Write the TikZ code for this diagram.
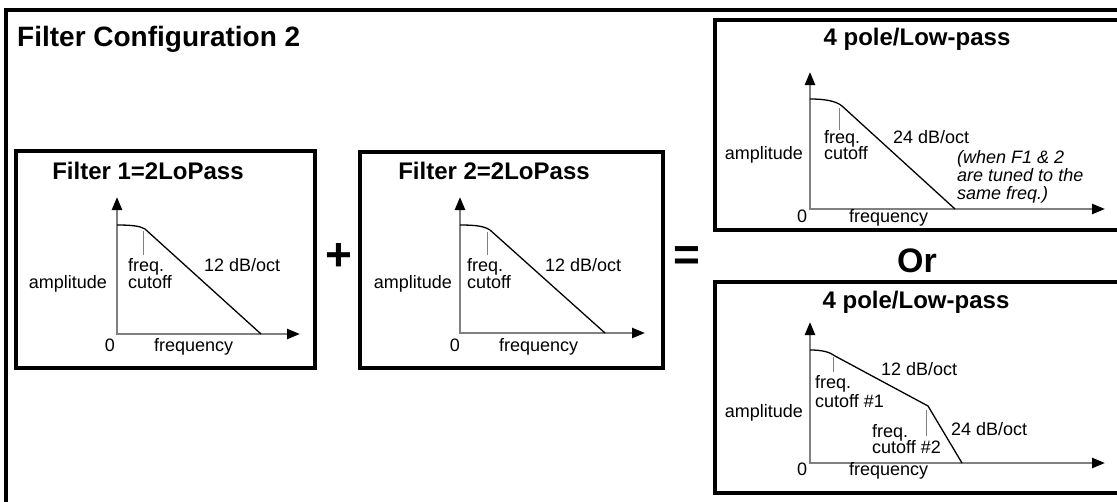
\documentclass[tikz,border=0pt]{standalone}
\usepackage{fontspec}
\setmainfont{Liberation Sans}
\usetikzlibrary{arrows.meta}
\definecolor{axisgray}{rgb}{0.5,0.5,0.5}
\tikzset{
  marco/.style={
    draw=black,
    line width=3.2pt
  },
  titulo/.style={
    font=\fontsize{24}{28}\selectfont\bfseries,
    anchor=base,
    inner sep=0pt
  },
  etiqueta/.style={
    font=\fontsize{18}{20}\selectfont,
    anchor=base west,
    inner sep=0pt
  },
  simbolo/.style={
    font=\fontsize{46}{50}\selectfont\bfseries,
    inner sep=0pt
  },
  ejes/.style={
    draw=axisgray,
    line width=2.4pt,
    {Triangle[length=13pt,width=10pt,color=black]}-{Triangle[length=13pt,width=10pt,color=black]}
  },
  curva/.style={
    draw=black,
    line width=1.3pt,
    line join=round
  },
  marca/.style={
    draw=axisgray,
    line width=1pt
  }
}
\begin{document}
\begin{tikzpicture}[x=1pt,y=-1pt]
\useasboundingbox (0,0) rectangle (1117,501);
\draw[marco] (6,10) rectangle (1125,510);
\node[font=\fontsize{28}{32}\selectfont\bfseries,anchor=base west,inner sep=0pt] (title) at (17,46) {Filter Configuration 2};

% filter 1
\draw[marco] (16,151) rectangle (315,368);
\node[titulo] (t1) at (148,179) {Filter 1=2LoPass};
\coordinate (y1) at (117,197);
\coordinate (o1) at (117,334);
\coordinate (x1) at (300,334);
\draw[ejes] (y1) -- (o1) -- (x1);
\draw[curva] (117,225) .. controls (132,225) and (140,226) .. (145,229) -- (261,334);
\draw[marca] (143,231) -- (143,255);
\node[etiqueta] (fa1) at (128,271) {freq.};
\node[etiqueta] (fb1) at (128,288) {cutoff};
\node[etiqueta] (s1) at (204,271) {12 dB/oct};
\node[etiqueta,anchor=base east] (a1) at (107,288) {amplitude};
\node[etiqueta,anchor=base] (z1) at (110,351) {0};
\node[etiqueta] (f1) at (154,351) {frequency};

\node[simbolo] (plus) at (339,257) {+};

% filter 2
\draw[marco] (360,152) rectangle (663,368);
\node[titulo] (t2) at (494,179) {Filter 2=2LoPass};
\coordinate (y2) at (460,197);
\coordinate (o2) at (460,333);
\coordinate (x2) at (645,333);
\draw[ejes] (y2) -- (o2) -- (x2);
\draw[curva] (460,225) .. controls (475,225) and (484,226) .. (490,230) -- (605,333);
\draw[marca] (487,232) -- (487,255);
\node[etiqueta] (fa2) at (467,271) {freq.};
\node[etiqueta] (fb2) at (467,288) {cutoff};
\node[etiqueta] (s2) at (545,271) {12 dB/oct};
\node[etiqueta,anchor=base east] (a2) at (452,288) {amplitude};
\node[etiqueta,anchor=base] (z2) at (455,351) {0};
\node[etiqueta] (f2) at (499,351) {frequency};

\node[simbolo] (equal) at (687,259) {=};

% 4 pole, top
\draw[marco] (715,20) rectangle (1125,230);
\node[titulo] (t3) at (917,45) {4 pole/Low-pass};
\coordinate (y3) at (810,72);
\coordinate (o3) at (810,209);
\coordinate (x3) at (1105,209);
\draw[ejes] (y3) -- (o3) -- (x3);
\draw[curva] (810,99) .. controls (825,99) and (836,101) .. (842,106) -- (955,209);
\draw[marca] (839,108) -- (839,130);
\node[etiqueta] (fa3) at (824,143) {freq.};
\node[etiqueta] (fb3) at (824,159) {cutoff};
\node[etiqueta] (s3) at (893,143) {24 dB/oct};
\node[etiqueta,anchor=base east] (a3) at (803,159) {amplitude};
\node[etiqueta,font=\fontsize{18}{20}\selectfont\itshape] (n1) at (957,163) {(when F1 \& 2};
\node[etiqueta,font=\fontsize{18}{20}\selectfont\itshape] (n2) at (957,181) {are tuned to the};
\node[etiqueta,font=\fontsize{18}{20}\selectfont\itshape] (n3) at (957,199) {same freq.)};
\node[etiqueta,anchor=base] (z3) at (802,222) {0};
\node[etiqueta] (f3) at (849,222) {frequency};

\node[font=\fontsize{34}{38}\selectfont\bfseries,anchor=base,inner sep=0pt] (or) at (917,272) {Or};

% 4 pole, bottom
\draw[marco] (715,282) rectangle (1125,493);
\node[titulo] (t4) at (916,308) {4 pole/Low-pass};
\coordinate (y4) at (810,322);
\coordinate (o4) at (810,463);
\coordinate (x4) at (1105,463);
\draw[ejes] (y4) -- (o4) -- (x4);
\draw[curva] (810,350) .. controls (822,350) and (830,352) .. (835,356) -- (928,406) -- (962,463);
\draw[marca] (833,357) -- (833,372);
\draw[marca] (926,410) -- (926,436);
\node[etiqueta] (s4) at (881,375) {12 dB/oct};
\node[etiqueta] (fa4) at (815,388) {freq.};
\node[etiqueta] (fb4) at (815,407) {cutoff \#1};
\node[etiqueta,anchor=base east] (a4) at (803,417) {amplitude};
\node[etiqueta] (fc4) at (872,437) {freq.};
\node[etiqueta] (fd4) at (872,453) {cutoff \#2};
\node[etiqueta] (r4) at (951,435) {24 dB/oct};
\node[etiqueta,anchor=base] (z4) at (802,475) {0};
\node[etiqueta] (f4) at (849,475) {frequency};
\end{tikzpicture}
\end{document}
